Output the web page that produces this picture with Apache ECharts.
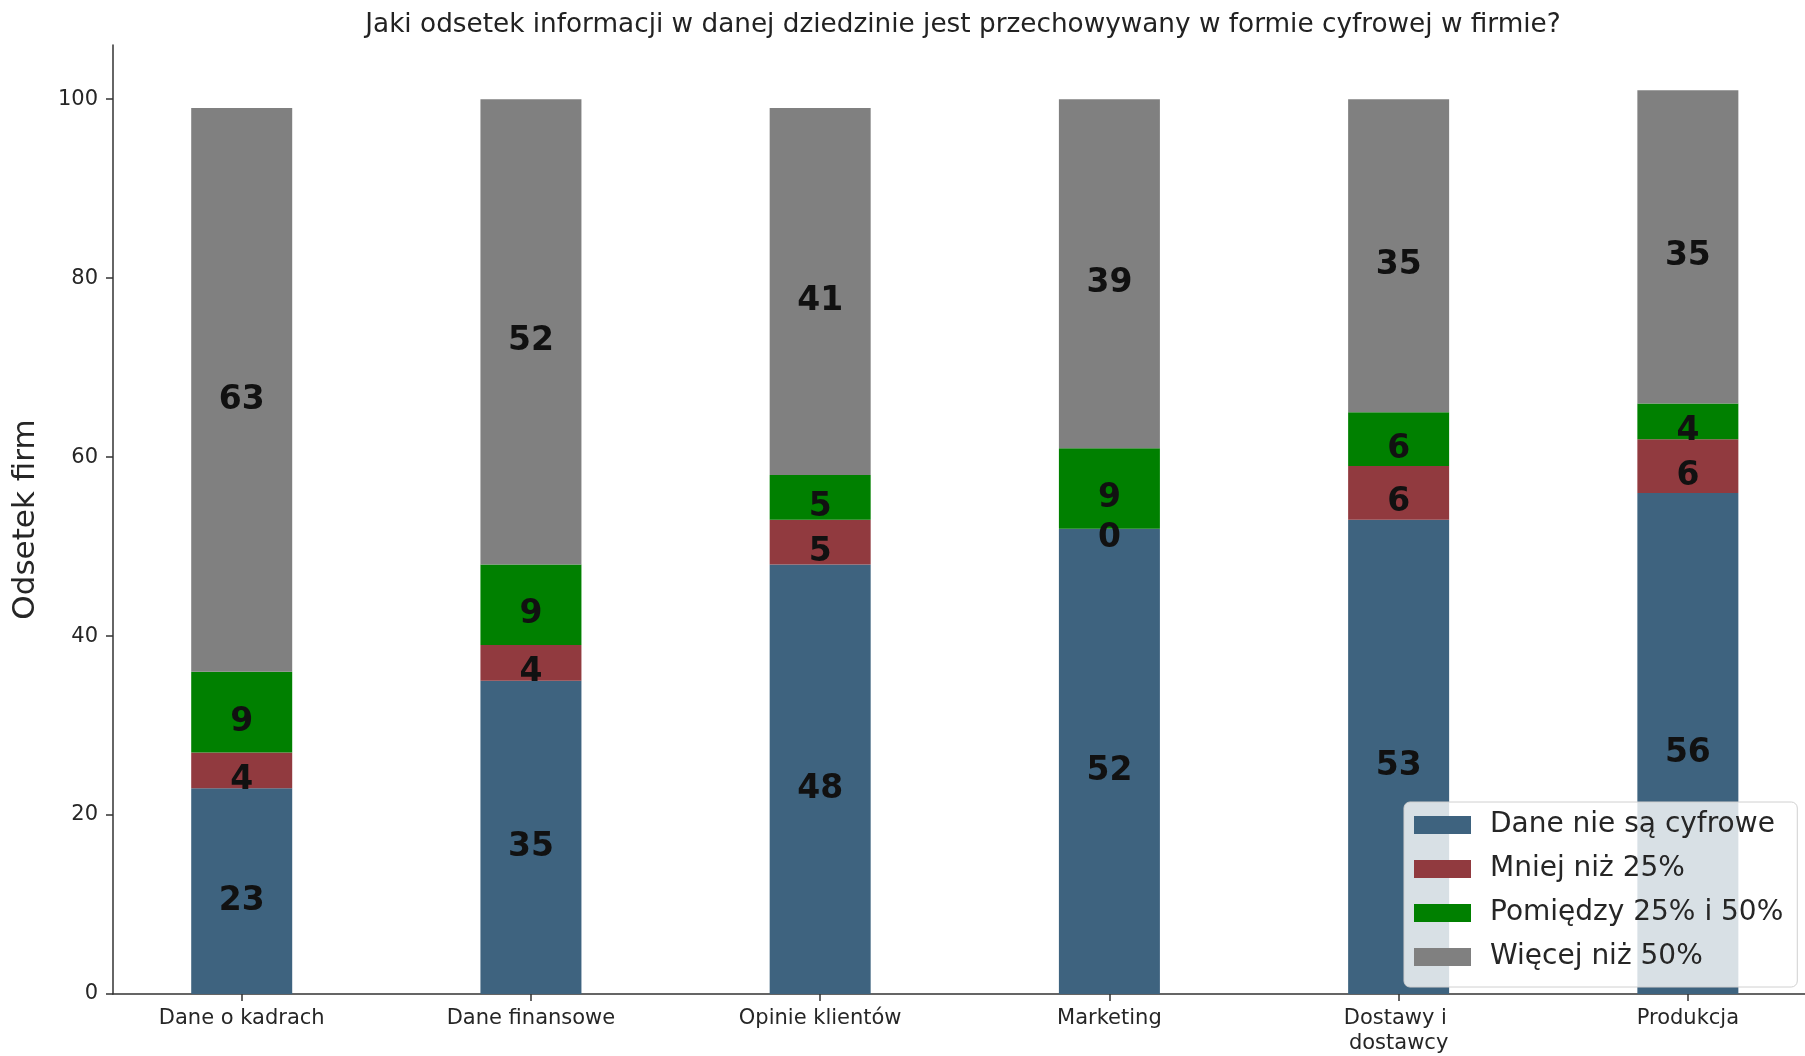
<!DOCTYPE html>
<html>
<head>
<meta charset="utf-8">
<script src="https://cdn.jsdelivr.net/npm/echarts@6/dist/echarts.min.js"></script>
<style>
  html, body { margin: 0; padding: 0; background: #fff; }
  #chart { width: 1805px; height: 1056px; }
</style>
</head>
<body>
<div id="chart"></div>
<script>
  // kategorie i wartości
  const categories = ['Dane o kadrach', 'Dane finansowe', 'Opinie klientów', 'Marketing', 'Dostawy i dostawcy', 'Produkcja'];
  const seriesNames = ['Dane nie są cyfrowe', 'Mniej niż 25%', 'Pomiędzy 25% i 50%', 'Więcej niż 50%'];
  const notDigital = [23, 35, 48, 52, 53, 56];
  const under25 = [4, 4, 5, 0, 6, 6];
  const between25and50 = [9, 9, 5, 9, 6, 4];
  const over50 = [63, 52, 41, 39, 35, 35];
  const yTicks = [0, 20, 40, 60, 80, 100];

  const colors = ['#3e637f', '#913a3f', '#008000', '#808080'];
  const allData = [notDigital, under25, between25and50, over50];
  const xPos = categories.map((c, i) => i);

  const chart = echarts.init(document.getElementById('chart'));

  const series = [];
  for (let s = 0; s < seriesNames.length; s++) {
    series.push({
      name: seriesNames[s],
      type: 'bar',
      stack: 'total',
      barWidth: 101,
      // wartość jako pierwszy wymiar, żeby stos liczył się po osi y
      encode: { x: 1, y: 0 },
      itemStyle: { color: colors[s] },
      label: {
        show: true,
        position: 'inside',
        offset: [0, 10],
        formatter: p => String(p.value[0]),
        color: '#111',
        fontWeight: 'bold',
        fontSize: 33,
        fontFamily: 'DejaVu Sans'
      },
      data: allData[s].map((v, i) => [v, xPos[i]])
    });
  }

  const option = {
    backgroundColor: '#ffffff',
    animation: false,
    title: {
      text: 'Jaki odsetek informacji w danej dziedzinie jest przechowywany w formie cyfrowej w firmie?',
      left: 958,
      textAlign: 'center',
      top: 7,
      textStyle: {
        fontFamily: 'DejaVu Sans',
        fontWeight: 'normal',
        fontSize: 26.3,
        color: '#222'
      }
    },
    legend: {
      orient: 'vertical',
      left: 1404,
      top: 802,
      padding: [9, 14, 16, 10],
      itemWidth: 57,
      itemHeight: 18,
      itemGap: 16,
      backgroundColor: 'rgba(255,255,255,0.8)',
      borderColor: '#d0d0d0',
      borderWidth: 1,
      borderRadius: 6,
      textStyle: {
        fontFamily: 'DejaVu Sans',
        fontSize: 28,
        lineHeight: 26,
        color: '#262626',
        padding: [0, 0, 0, 14]
      },
      itemStyle: { borderWidth: 0 },
      data: seriesNames.map(n => ({ name: n, icon: 'rect' }))
    },
    grid: {
      left: 113,
      right: 0,
      top: 45,
      bottom: 62,
      containLabel: false,
      outerBoundsMode: 'none'
    },
    xAxis: {
      type: 'value',
      min: -0.445,
      max: 5.405,
      splitLine: { show: false },
      axisLine: { show: true, onZero: false, lineStyle: { color: '#333', width: 1.5 } },
      axisTick: {
        show: true,
        length: 7,
        customValues: xPos,
        lineStyle: { color: '#333', width: 1.5 }
      },
      axisLabel: {
        customValues: xPos,
        formatter: v => categories[Math.round(v)],
        fontFamily: 'DejaVu Sans',
        fontSize: 21,
        lineHeight: 25,
        color: '#262626',
        margin: 12,
        width: 180,
        overflow: 'break'
      }
    },
    yAxis: {
      type: 'value',
      min: 0,
      max: 106.05,
      name: 'Odsetek firm',
      nameLocation: 'middle',
      nameGap: 72,
      nameTextStyle: {
        fontFamily: 'DejaVu Sans',
        fontSize: 31,
        color: '#262626'
      },
      splitLine: { show: false },
      axisLine: { show: true, onZero: false, lineStyle: { color: '#333', width: 1.5 } },
      axisTick: {
        show: true,
        length: 7,
        customValues: yTicks,
        lineStyle: { color: '#333', width: 1.5 }
      },
      axisLabel: {
        customValues: yTicks,
        fontFamily: 'DejaVu Sans',
        fontSize: 21,
        color: '#262626',
        margin: 15
      }
    },
    series: series
  };

  chart.setOption(option);
</script>
</body>
</html>
